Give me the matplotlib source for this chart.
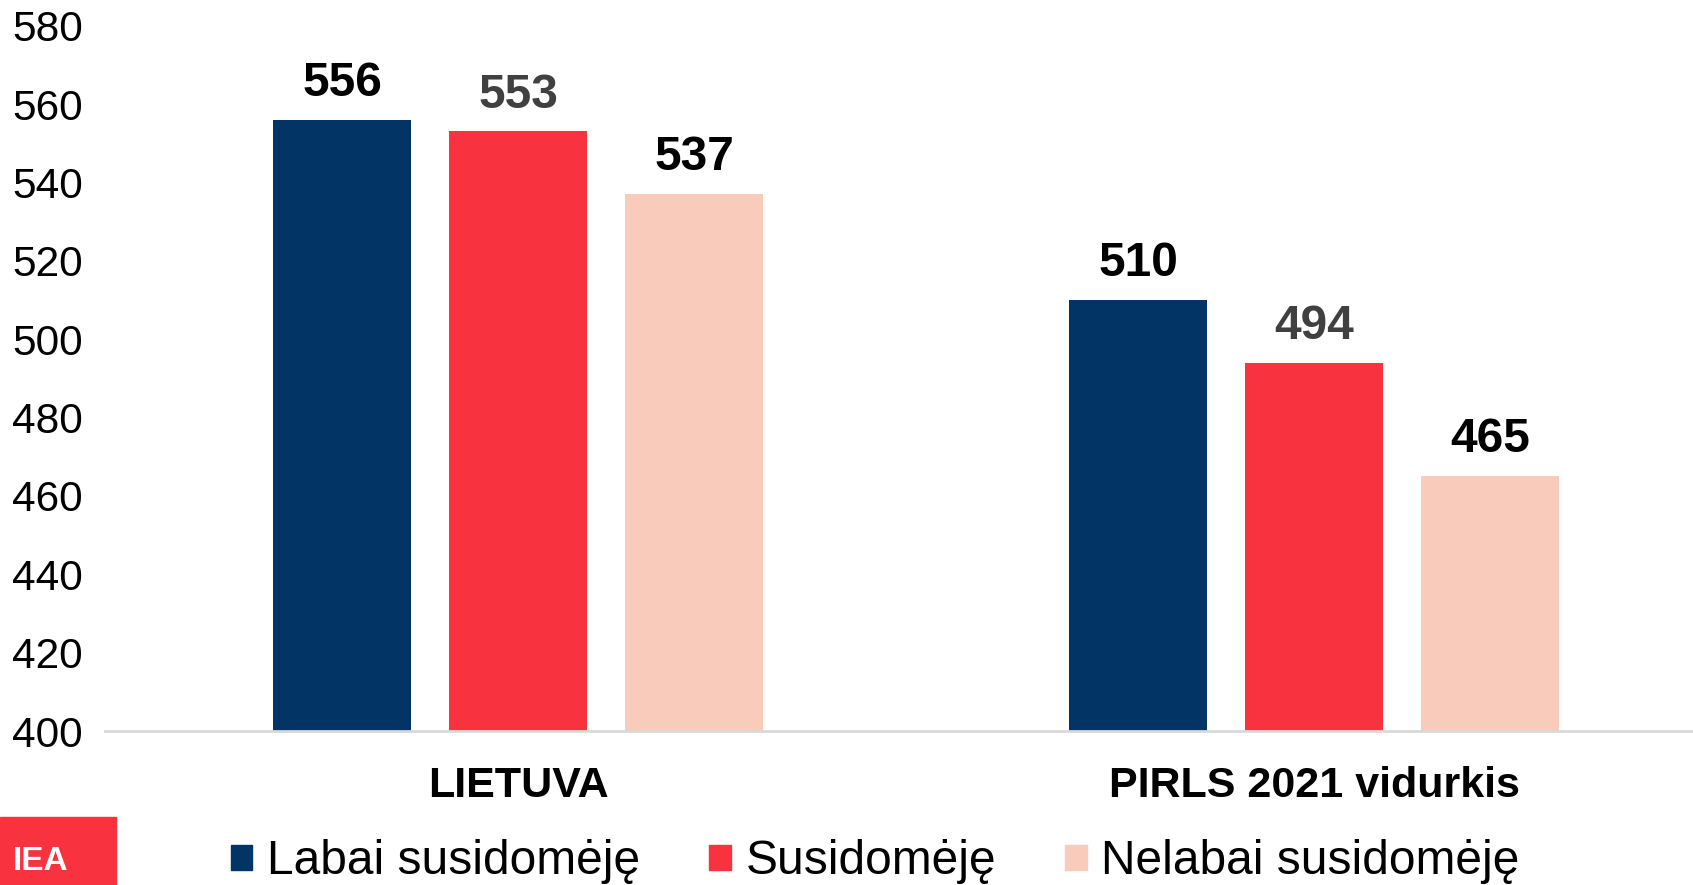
import numpy as np
import matplotlib.pyplot as plt
from matplotlib.patches import Patch, Rectangle

plt.rcParams['font.family'] = ['Liberation Sans', 'DejaVu Sans']

# Reading scores by interest in reading
groups = ['LIETUVA', 'PIRLS 2021 vidurkis']
series = ['Labai susidomėję', 'Susidomėję', 'Nelabai susidomėję']
labai = [556, 510]
susidomeje = [553, 494]
nelabai = [537, 465]

colors = ['#023566', '#F8323F', '#F9CBBA']
label_colors = ['#000000', '#404040', '#000000']

fig = plt.figure(figsize=(16.93, 8.85), dpi=100)
ax = fig.add_axes([0.062, 0.174, 0.938, 0.797])

x = np.arange(len(groups))
width = 0.173
step = 0.221
for i, vals in enumerate([labai, susidomeje, nelabai]):
    pos = x + (i - 1) * step
    bars = ax.bar(pos, vals, width=width, color=colors[i], bottom=0, zorder=2)
    for b, v in zip(bars, vals):
        ax.annotate(str(v), (b.get_x() + b.get_width() / 2, v),
                    xytext=(0, 10), textcoords='offset points',
                    ha='center', va='bottom', fontsize=34.5, fontweight='bold',
                    color=label_colors[i])

ax.set_ylim(400, 580)
ax.set_yticks(np.arange(400, 581, 20))
ax.set_xlim(-0.519, 1.476)
ax.set_xticks(x)
ax.set_xticklabels(groups, fontsize=31, fontweight='bold')
ax.tick_params(axis='y', length=0, pad=16, labelsize=30.5)
ax.tick_params(axis='x', length=0, pad=25)

for s in ['top', 'right', 'left']:
    ax.spines[s].set_visible(False)
ax.spines['bottom'].set_color('#D9D9D9')
ax.spines['bottom'].set_linewidth(2)

handles = [Patch(color=c) for c in colors]
fig.legend(handles, series, loc='center', bbox_to_anchor=(0.517, 0.026),
           ncol=3, frameon=False, fontsize=34.5, handlelength=0.45,
           handleheight=0.45, handletextpad=0.3, columnspacing=1.45)

# IEA badge in the lower left corner
fig.patches.append(Rectangle((0, 0), 116 / 1693, 68 / 885,
                             transform=fig.transFigure, color='#F8323F'))
fig.text(13 / 1693, 23 / 885, 'IEA', color='white', fontsize=24,
         fontweight='bold', va='center', ha='left')

fig.savefig('out.png', dpi=100)
